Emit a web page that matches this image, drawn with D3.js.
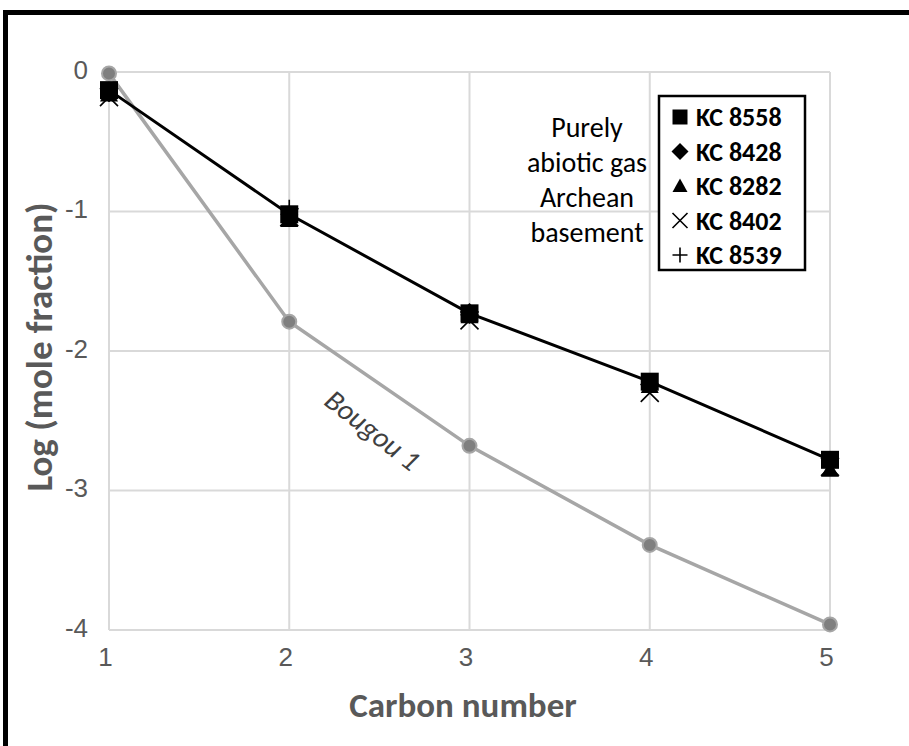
<!DOCTYPE html>
<html>
<head>
<meta charset="utf-8">
<script src="https://cdn.jsdelivr.net/npm/d3@7"></script>
<style>
  body { margin: 0; background: #fff; }
  svg { display: block; font-family: Carlito, Calibri, "Open Sans", "Noto Sans", sans-serif; }
</style>
</head>
<body>
<div id="chart"></div>
<script>
var carbon = [1, 2, 3, 4, 5];
var bougou = [-0.01, -1.79, -2.68, -3.39, -3.96];
var kc8558 = [-0.13, -1.02, -1.73, -2.22, -2.78];
var kc8428 = [-0.14, -1.02, -1.72, -2.24, -2.80];
var kc8282 = [-0.16, -1.06, -1.75, -2.25, -2.85];
var kc8402 = [-0.18, -1.04, -1.78, -2.30, -2.83];
var kc8539 = [-0.15, -0.98, -1.74, -2.24, -2.82];
var seriesNames = ['KC 8558', 'KC 8428', 'KC 8282', 'KC 8402', 'KC 8539'];
var xTicks = [1, 2, 3, 4, 5];
var yTicks = [0, -1, -2, -3, -4];
var noteLines = ['Purely', 'abiotic gas', 'Archean', 'basement'];

var W = 909, H = 746;
var margin = {top: 72, right: 79, bottom: 116, left: 109};
var width = W - margin.left - margin.right;
var height = H - margin.top - margin.bottom;

var x = d3.scaleLinear().domain([1, 5]).range([0, width]);
var y = d3.scaleLinear().domain([-4, 0]).range([height, 0]);

var svg = d3.select('#chart').append('svg')
    .attr('width', W)
    .attr('height', H);

// frame (top and left edge only visible)
svg.append('path')
  .attr('d', 'M5.5,' + H + 'V12.5H' + W)
  .attr('fill', 'none')
  .attr('stroke', '#000')
  .attr('stroke-width', 5);

var g = svg.append('g')
    .attr('transform', 'translate(' + margin.left + ',' + margin.top + ')');

// Grid
g.append('g').selectAll('line')
  .data(xTicks)
  .enter().append('line')
  .attr('x1', function(d) { return x(d); })
  .attr('x2', function(d) { return x(d); })
  .attr('y1', 0).attr('y2', height)
  .attr('stroke', '#d9d9d9').attr('stroke-width', 2);

g.append('g').selectAll('line')
  .data(yTicks)
  .enter().append('line')
  .attr('y1', function(d) { return y(d); })
  .attr('y2', function(d) { return y(d); })
  .attr('x1', 0).attr('x2', width)
  .attr('stroke', '#d9d9d9').attr('stroke-width', 2);

// Axes (labels only)
var xAxis = d3.axisBottom(x).tickValues(xTicks).tickSize(0).tickPadding(0)
    .tickFormat(d3.format('d'));
var yAxis = d3.axisLeft(y).tickValues(yTicks).tickSize(0).tickPadding(0)
    .tickFormat(function(d) { return d === 0 ? '0' : '-' + Math.abs(d); });

var gx = g.append('g')
  .attr('transform', 'translate(0,' + (height + 18) + ')')
  .call(xAxis);
var gy = g.append('g')
  .attr('transform', 'translate(-21,-2)')
  .call(yAxis);
[gx, gy].forEach(function(a) {
  a.select('.domain').remove();
  a.selectAll('text')
    .style('font-size', '26px')
    .attr('fill', '#595959');
});
gx.selectAll('text').attr('dy', '0.7em').attr('dx', '-4');

// Axis titles
svg.append('text')
  .attr('x', 463).attr('y', 717)
  .attr('text-anchor', 'middle')
  .style('font-size', '35px').style('font-weight', 'bold')
  .attr('fill', '#595959')
  .text('Carbon number');

svg.append('text')
  .attr('transform', 'translate(52,347) rotate(-90)')
  .attr('text-anchor', 'middle')
  .style('font-size', '37px').style('font-weight', 'bold')
  .attr('fill', '#595959')
  .text('Log (mole fraction)');

var line = d3.line()
    .x(function(d, i) { return x(carbon[i]); })
    .y(function(d) { return y(d); });

// Bougou 1
g.append('path')
  .datum(bougou)
  .attr('d', line)
  .attr('fill', 'none')
  .attr('stroke', '#a6a6a6')
  .attr('stroke-width', 3.5);

g.selectAll('circle.bougou')
  .data(bougou)
  .enter().append('circle')
  .attr('cx', function(d, i) { return x(carbon[i]); })
  .attr('cy', function(d) { return y(d); })
  .attr('r', 7)
  .attr('fill', '#7f7f7f')
  .attr('stroke', '#a6a6a6')
  .attr('stroke-width', 2);

// KC line
g.append('path')
  .datum(kc8558)
  .attr('d', line)
  .attr('fill', 'none')
  .attr('stroke', '#000')
  .attr('stroke-width', 3);

var kcData = [kc8558, kc8428, kc8282, kc8402, kc8539];

// marker shapes, s = half size
function markerPath(k, s) {
  if (k === 0) return 'M' + -s + ',' + -s + 'H' + s + 'V' + s + 'H' + -s + 'Z';
  if (k === 1) return 'M0,' + -s + 'L' + s + ',0L0,' + s + 'L' + -s + ',0Z';
  if (k === 2) return 'M0,' + -s + 'L' + s + ',' + (s * 0.8) + 'H' + -s + 'Z';
  if (k === 3) return 'M' + -s + ',' + -s + 'L' + s + ',' + s + 'M' + s + ',' + -s + 'L' + -s + ',' + s;
  return 'M' + -s + ',0H' + s + 'M0,' + -s + 'V' + s;
}

function drawSymbol(sel, k, s) {
  sel.attr('d', markerPath(k, s));
  if (k >= 3) {
    sel.attr('fill', 'none').attr('stroke', '#000').attr('stroke-width', 1.6);
  } else {
    sel.attr('fill', '#000');
  }
}

kcData.forEach(function(vals, k) {
  g.selectAll('path.kc' + k)
    .data(vals)
    .enter().append('path')
    .attr('class', 'kc' + k)
    .attr('transform', function(d, i) {
      return 'translate(' + x(carbon[i]) + ',' + y(d) + ')';
    })
    .each(function() { drawSymbol(d3.select(this), k, 9); });
});

// Bougou label
svg.append('text')
  .attr('transform', 'translate(373,430) rotate(38)')
  .attr('text-anchor', 'middle')
  .attr('dy', '0.35em')
  .style('font-size', '29px')
  .style('font-style', 'italic')
  .attr('fill', '#404040')
  .text('Bougou 1');

// Note
svg.append('text')
  .selectAll('tspan')
  .data(noteLines)
  .enter().append('tspan')
  .attr('x', 587)
  .attr('y', function(d, i) { return 137 + i * 35; })
  .attr('text-anchor', 'middle')
  .style('font-size', '28px')
  .attr('fill', '#000')
  .text(function(d) { return d; });

// Legend
var legend = svg.append('g').attr('transform', 'translate(659,96)');
legend.append('rect')
  .attr('width', 146).attr('height', 174)
  .attr('fill', '#fff')
  .attr('stroke', '#000').attr('stroke-width', 2.5);

var item = legend.selectAll('g.item')
  .data(seriesNames)
  .enter().append('g')
  .attr('transform', function(d, i) { return 'translate(21,' + (21 + i * 34.5) + ')'; });

item.append('path')
  .each(function(d, i) { drawSymbol(d3.select(this), i, i === 1 ? 8.5 : 7.5); });

item.append('text')
  .attr('x', 16)
  .attr('dy', '0.35em')
  .style('font-size', '26px')
  .style('font-weight', 'bold')
  .attr('fill', '#000')
  .text(function(d) { return d; });
</script>
</body>
</html>
